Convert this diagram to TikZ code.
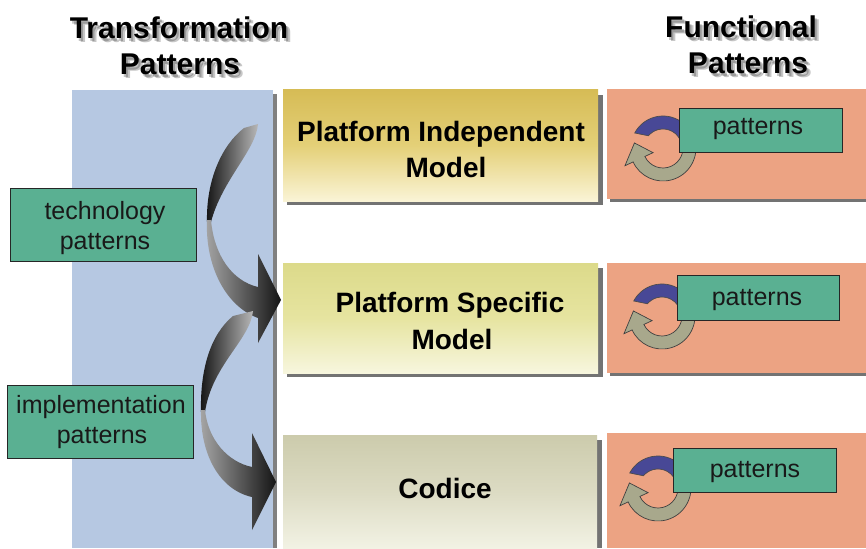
\documentclass[tikz,border=0pt]{standalone}
\usepackage{fontspec}
\setmainfont{Liberation Sans}

\definecolor{panelblue}{RGB}{182,200,226}
\definecolor{taggreen}{RGB}{90,176,146}
\definecolor{salmon}{RGB}{236,163,131}
\definecolor{arcblue}{RGB}{72,72,150}
\definecolor{arcgrey}{RGB}{168,168,140}
\definecolor{pimtop}{RGB}{214,188,86}
\definecolor{pimmid}{RGB}{228,208,120}
\definecolor{pimbot}{RGB}{250,244,214}
\definecolor{psmtop}{RGB}{220,218,138}
\definecolor{psmmid}{RGB}{230,228,160}
\definecolor{psmbot}{RGB}{247,246,222}
\definecolor{codtop}{RGB}{204,203,172}
\definecolor{codmid}{RGB}{220,219,195}
\definecolor{codbot}{RGB}{242,242,228}

% recycling icon: grey arc with arrow head, blue arc tail
\newcommand\cycleicon[1]{%
  \begin{scope}[shift={#1}]
    \filldraw[fill=arcgrey, draw=black!75, line width=0.7pt]
      (-15:33) arc[start angle=-15, end angle=155, radius=33]
      -- (155:42) -- (190:29) -- (155:11) -- (155:20)
      arc[start angle=155, end angle=-15, radius=20] -- cycle;
    \filldraw[fill=arcblue, draw=black!70, line width=0.7pt]
      (208:32) arc[start angle=208, end angle=345, radius=32]
      -- (345:19) arc[start angle=345, end angle=220, radius=19] -- cycle;
  \end{scope}}

\begin{document}
\begin{tikzpicture}[x=1pt,y=-1pt,
  heading/.style={font=\bfseries\fontsize{30}{30}\selectfont, anchor=base, inner sep=0pt},
  headshadow/.style={heading, text=black, opacity=0.22},
  modeltext/.style={font=\bfseries\fontsize{28}{28}\selectfont, anchor=base, inner sep=0pt},
  tagtext/.style={font=\fontsize{25}{25}\selectfont, anchor=base, inner sep=0pt, text=black!90},
  tagbox/.style={draw=black!85, line width=1.1pt, fill=taggreen, anchor=north west, inner sep=0pt},
  plainbox/.style={anchor=north west, inner sep=0pt, outer sep=0pt},
  dropshadow/.style={fill=black!55},
  ribbonupper/.style={left color=black!92, right color=black!28},
  ribbonlower/.style={left color=black!35, right color=black!92},
]
\useasboundingbox (0,0) rectangle (866,548);
\fill[white] (0,0) rectangle (866,548);

% transformation column
\fill[black!50] (76,94) rectangle (277,548);
\node[plainbox, fill=panelblue, minimum width=201, minimum height=458] (panel) at (72,90) {};

% model boxes with drop shadows
\fill[dropshadow] (287,95) rectangle (603,205);
\node[plainbox, top color=pimtop, bottom color=pimbot, middle color=pimmid,
      minimum width=315, minimum height=111] (pim) at (283,90) {};
\fill[dropshadow] (287,268) rectangle (603,377);
\node[plainbox, top color=psmtop, bottom color=psmbot, middle color=psmmid,
      minimum width=315, minimum height=110] (psm) at (283,263) {};
\fill[dropshadow] (287,440) rectangle (602,548);
\node[plainbox, top color=codtop, bottom color=codbot, middle color=codmid,
      minimum width=314, minimum height=113] (cod) at (283,435) {};

% functional column
\fill[dropshadow] (610,93) rectangle (866,202);
\node[plainbox, fill=salmon, minimum width=259, minimum height=110] (fa) at (607,89) {};
\fill[dropshadow] (610,267) rectangle (866,376);
\node[plainbox, fill=salmon, minimum width=259, minimum height=110] (fb) at (607,263) {};
\fill[dropshadow] (610,437) rectangle (866,548);
\node[plainbox, fill=salmon, minimum width=259, minimum height=115] (fc) at (607,433) {};

\cycleicon{(663,148)}
\cycleicon{(662,316)}
\cycleicon{(658,488)}

\node[tagbox, minimum width=163, minimum height=44] (pa) at (679,108) {};
\node[tagbox, minimum width=162, minimum height=45] (pb) at (677,275) {};
\node[tagbox, minimum width=163, minimum height=44] (pc) at (673,448) {};
\node[tagtext] (pat) at (758,135) {patterns};
\node[tagtext] (pbt) at (757,305) {patterns};
\node[tagtext] (pct) at (755,477) {patterns};

% pattern tags of the transformation column
\node[tagbox, minimum width=186, minimum height=73] (tech) at (10,188) {};
\node[tagbox, minimum width=186, minimum height=73] (impl) at (7,385) {};
\node[tagtext] (techa) at (105,219) {technology};
\node[tagtext] (techb) at (105,249) {patterns};
\node[tagtext] (impla) at (101,413) {implementation};
\node[tagtext] (implb) at (102,443) {patterns};

% ribbon arrow from the independent to the specific model
\shade[ribbonupper] (244,128) .. controls (222,145) and (206,180) .. (207,222)
  -- (211,222) .. controls (222,180) and (256,150) .. (258,124) -- cycle;
\shade[ribbonlower] (207,220) .. controls (205,265) and (225,306) .. (258,318)
  -- (258,343) -- (281,300) -- (258,254) -- (258,287)
  .. controls (232,281) and (214,255) .. (211,220) -- cycle;

% ribbon arrow from the specific model to the code
\shade[ribbonupper] (233,316) .. controls (210,335) and (200,370) .. (201,412)
  -- (205,412) .. controls (212,365) and (250,340) .. (253,311) -- cycle;
\shade[ribbonlower] (201,410) .. controls (200,455) and (220,490) .. (252,497)
  -- (252,530) -- (276,482) -- (252,433) -- (252,467)
  .. controls (228,462) and (208,440) .. (205,410) -- cycle;

% model labels
\node[modeltext] (pima) at (441,142) {Platform Independent};
\node[modeltext] (pimb) at (446,177) {Model};
\node[modeltext] (psma) at (450,312) {Platform Specific};
\node[modeltext] (psmb) at (452,349) {Model};
\node[modeltext] (coda) at (445,498) {Codice};

% column headings with soft shadows
\foreach \dx/\dy in {2/3,4/4} {
  \node[headshadow] at (179+\dx,39+\dy) {Transformation};
  \node[headshadow] at (180+\dx,75+\dy) {Patterns};
  \node[headshadow] at (741+\dx,38+\dy) {Functional};
  \node[headshadow] at (748+\dx,74+\dy) {Patterns};
}
\node[heading] (tha) at (179,39) {Transformation};
\node[heading] (thb) at (180,75) {Patterns};
\node[heading] (fha) at (741,38) {Functional};
\node[heading] (fhb) at (748,74) {Patterns};
\end{tikzpicture}
\end{document}
